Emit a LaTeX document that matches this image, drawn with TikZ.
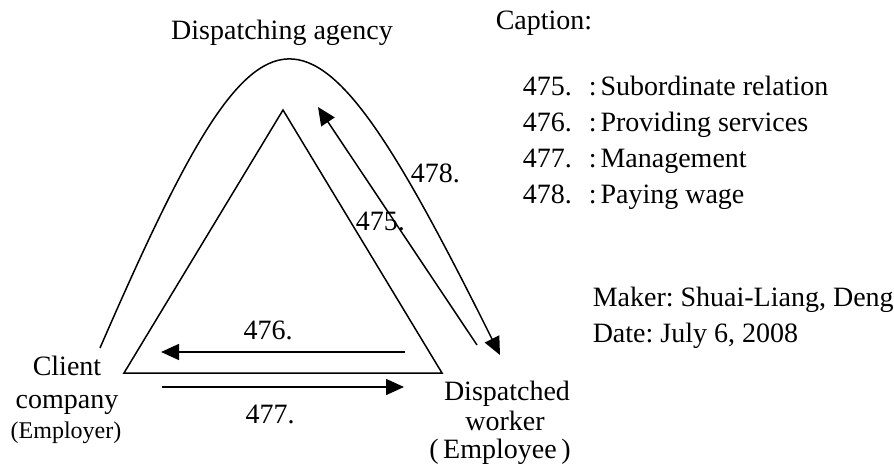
\documentclass[tikz,border=0pt]{standalone}
\usepackage{fontspec}
\setmainfont{Liberation Serif}
\usetikzlibrary{arrows.meta}
\frenchspacing
\begin{document}
\begin{tikzpicture}[x=1pt,y=-1pt, line width=1.5pt,
  txt/.style={inner sep=0pt, font=\fontsize{28}{30}\selectfont\frenchspacing},
  smalltxt/.style={inner sep=0pt, font=\fontsize{24}{26}\selectfont},
  arr/.style={-{Triangle[length=18pt,width=16pt]}}]
\useasboundingbox (0,0) rectangle (894,471);
% triangle
\coordinate (tl) at (124,373);
\coordinate (tt) at (283,110);
\coordinate (tr) at (442,373);
\draw (tl) -- (tt) -- (tr) -- cycle;
% arch (478)
\coordinate (aL) at (100,348);
\coordinate (aR) at (500,355);
\draw[arr] (aL) .. controls (267,-36) and (305,-36) .. (aR);
% 475 arrow
\coordinate (s475) at (477,345);
\coordinate (e475) at (318,107);
\draw[arr] (s475) -- (e475);
% 476 / 477 arrows
\coordinate (s476) at (405,352);
\coordinate (e476) at (161,352);
\draw[arr] (s476) -- (e476);
\coordinate (s477) at (162,387);
\coordinate (e477) at (404,387);
\draw[arr] (s477) -- (e477);
% labels on arrows
\node[txt, anchor=base] (l476) at (268,339) {476.};
\node[txt, anchor=base] (l477) at (270,423) {477.};
\node[txt, anchor=base west] (l478) at (410,182) {478.};
\node[txt, anchor=base west] (l475) at (355,230) {475.};
% main labels
\node[txt, anchor=base] (agency) at (282,39) {Dispatching agency};
\node[txt, anchor=base] (client1) at (67,375) {Client};
\node[txt, anchor=base] (client2) at (67,408) {company};
\node[smalltxt, anchor=base] (client3) at (66,438) {(Employer)};
\node[txt, anchor=base] (worker1) at (507,400) {Dispatched};
\node[txt, anchor=base] (worker2) at (505,430) {worker};
\node[txt, anchor=base] (worker3) at (500,458) {(\,Employee\,)};
% caption
\node[txt, anchor=base west] (cap) at (495,29) {Caption:};
\node[txt, anchor=base west] (c1) at (522,95) {475.\hspace{17pt}:\hspace{4pt}Subordinate relation};
\node[txt, anchor=base west] (c2) at (522,131) {476.\hspace{17pt}:\hspace{4pt}Providing services};
\node[txt, anchor=base west] (c3) at (522,167) {477.\hspace{17pt}:\hspace{4pt}Management};
\node[txt, anchor=base west] (c4) at (522,203) {478.\hspace{17pt}:\hspace{4pt}Paying wage};
\node[txt, anchor=base west] (maker) at (592,306) {Maker: Shuai-Liang, Deng};
\node[txt, anchor=base west] (date) at (592,342) {Date: July 6, 2008};
\end{tikzpicture}
\end{document}
